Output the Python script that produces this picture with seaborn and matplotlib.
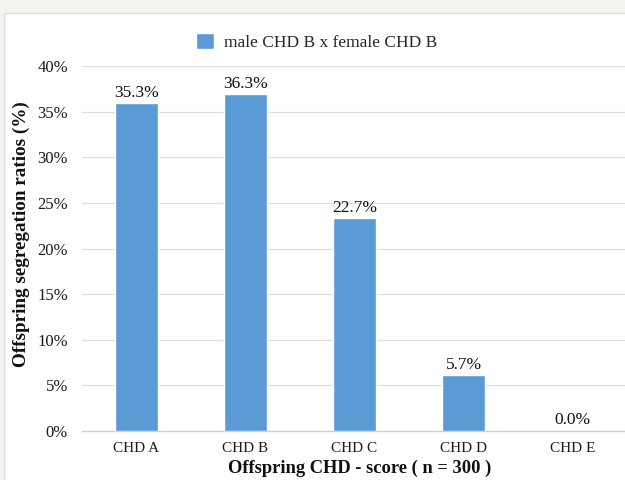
import matplotlib
matplotlib.use("Agg")
import matplotlib.pyplot as plt
from matplotlib.patches import Rectangle
import seaborn as sns
import pandas as pd

# data
categories = ["CHD A", "CHD B", "CHD C", "CHD D", "CHD E"]
bar_heights = [35.9, 36.9, 23.3, 6.1, 0.0]
value_labels = ["35.3%", "36.3%", "22.7%", "5.7%", "0.0%"]
y_ticks = [0, 5, 10, 15, 20, 25, 30, 35, 40]
series_name = "male CHD B x female CHD B"

df = pd.DataFrame({"score": categories, "ratio": bar_heights})

sns.set_theme(style="white")
plt.rcParams["font.family"] = ["Liberation Serif", "DejaVu Serif"]

fig = plt.figure(figsize=(6.25, 4.8), dpi=100, facecolor="#f3f3ef")
# white chart panel (screenshot is cropped on the right/bottom)
fig.patches.append(Rectangle((4 / 625, -0.01), 1.0, 1 - 13 / 480 + 0.01,
                             transform=fig.transFigure, facecolor="white",
                             edgecolor="#dcdcdc", linewidth=1.0, zorder=-5))

ax = fig.add_axes([82 / 625, 49 / 480, 545 / 625, 365 / 480])
ax.set_facecolor("none")

sns.barplot(data=df, x="score", y="ratio", color="#5B9BD5", width=0.39,
            saturation=1, label=series_name, ax=ax, zorder=3)
handles, labels = ax.get_legend_handles_labels()
if ax.get_legend() is not None:
    ax.get_legend().remove()

ax.set_xlim(-0.5, 4.5)
ax.set_ylim(0, 40)
ax.set_yticks(y_ticks)
ax.set_yticklabels([f"{t}%" for t in y_ticks], fontsize=12, color="#1a1a1a")
ax.tick_params(axis="y", length=0, pad=10)
ax.tick_params(axis="x", length=0, pad=8, labelsize=11, labelcolor="#1a1a1a")

ax.grid(axis="y", color="#dedede", linewidth=0.9, zorder=0)
ax.set_axisbelow(True)
for side in ["left", "top", "right"]:
    ax.spines[side].set_visible(False)
ax.spines["bottom"].set_color("#d0d0d0")
ax.spines["bottom"].set_linewidth(1.0)

ax.bar_label(ax.containers[0], labels=value_labels, padding=2, fontsize=12.5,
             color="#111111")

ax.set_xlabel("Offspring CHD - score ( n = 300 )", fontsize=13.3,
              fontweight="bold", color="#111111")
ax.set_ylabel("Offspring segregation ratios (%)", fontsize=13.8,
              fontweight="bold", color="#111111")
ax.xaxis.set_label_coords(0.51, -0.078)
ax.yaxis.set_label_coords(-0.095, 0.54)

fig.legend(handles, labels, loc="center", bbox_to_anchor=(0.507, 0.912),
           frameon=False, fontsize=12.5, handlelength=1.0, handleheight=1.0,
           handletextpad=0.6)

fig.savefig("out.png", dpi=100, facecolor=fig.get_facecolor())
